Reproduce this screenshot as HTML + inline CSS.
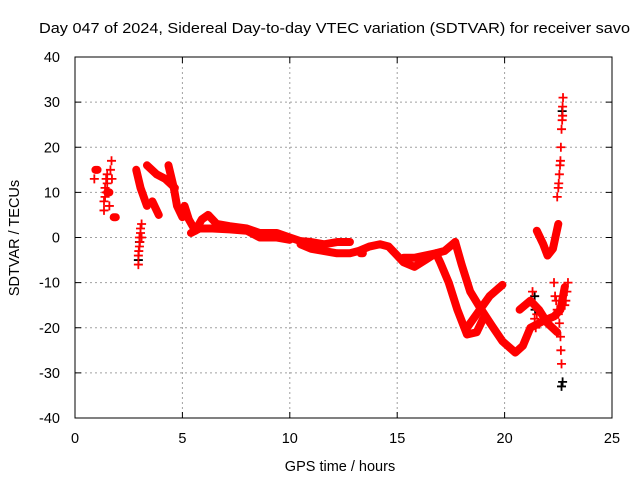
<!DOCTYPE html>
<html><head><meta charset="utf-8"><style>
html,body{margin:0;padding:0;background:#fff;}
svg text{font-family:"Liberation Sans",sans-serif;}
</style></head><body>
<svg id="chart" width="640" height="480" viewBox="0 0 640 480" xmlns="http://www.w3.org/2000/svg">
<rect width="640" height="480" fill="#fff"/>
<text x="39" y="33" font-size="14.5" textLength="591" lengthAdjust="spacingAndGlyphs">Day 047 of 2024, Sidereal Day-to-day VTEC variation (SDTVAR) for receiver savo</text>
<g id="grid"></g>
<g id="ticks"></g>
<defs><clipPath id="pc"><rect x="75" y="57" width="537" height="361"/></clipPath></defs>
<g id="marks" clip-path="url(#pc)"></g>
<rect x="75" y="57" width="537" height="361" fill="none" stroke="#000" stroke-width="1"/>
<text x="340" y="471" font-size="14.5" text-anchor="middle">GPS time / hours</text>
<text transform="translate(19,238) rotate(-90)" font-size="14.5" text-anchor="middle">SDTVAR / TECUs</text>
</svg>
<script>
const xTicks=[0,5,10,15,20,25];
const yTicks=[-40,-30,-20,-10,0,10,20,30,40];
// dense bands (hours, TECU)
const bandMain=[[5.1,7],[5.3,4],[5.6,1.5],[5.9,4],[6.2,5],[6.6,3],[7.2,2.5],[8,2],[8.6,1],[9.4,1],[10,0],[10.5,-0.8],[11,-1],[11.6,-1.5],[12.2,-1],[12.8,-1]];
const bandMain2=[[5.4,1],[5.8,2],[6.4,2],[7.2,1.8],[8,1.5],[8.6,0],[9.4,0],[10,-0.5]];
const bandLow=[[10.5,-1.5],[11,-2.5],[11.6,-3],[12.2,-3.5],[12.8,-3.5],[13.2,-3],[13.7,-2],[14.2,-1.5],[14.6,-2],[14.9,-3.5],[15.3,-5.5],[15.8,-6.5],[16.3,-5],[16.8,-3.5],[17.2,-3],[17.7,-1]];
const bandUp=[[15.3,-4.5],[15.8,-4.5],[16.3,-4],[16.8,-3.5],[17.0,-5.5],[17.4,-10],[17.8,-16],[18.25,-21.5],[18.7,-21],[19.0,-18]];
const bandDown=[[17.7,-1],[18.0,-6],[18.4,-12],[18.85,-15.5],[19.4,-19.5],[19.9,-23],[20.5,-25.5],[20.85,-24],[21.2,-20],[21.8,-18.5],[22.3,-17.5],[22.6,-16],[22.8,-11]];
const bandRise=[[18.25,-20],[18.7,-17],[19.3,-13],[19.9,-10.5]];
const bandCross=[[20.7,-16],[21.2,-14],[21.6,-16],[22.0,-19],[22.45,-21]];
const bandHook=[[21.5,1.5],[21.8,-1.5],[22.0,-4],[22.25,-2.5],[22.5,3]];
const bandEarly1=[[2.85,15],[3.05,11],[3.35,7]];
const bandEarly2=[[3.35,16],[3.8,14],[4.2,13],[4.65,11]];
const bandEarly3=[[4.35,16],[4.6,11],[4.75,7],[5.0,4.5]];
const bandEarly4=[[3.6,8],[3.9,5]];
const blobs=[[0.95,15],[1.8,4.5],[1.5,10],[8.7,1],[13.3,-3.5]];
// sparse + markers
const redT=[1.35,1.35,1.4,1.4,1.45,1.45,1.5,1.5,1.6,1.65,1.7,1.72,0.9,2.95,2.95,2.97,3.0,3.0,3.02,3.05,3.05,3.1,3.1,22.45,22.5,22.52,22.55,22.58,22.6,22.62,22.65,22.68,22.7,22.72,22.7,22.3,22.35,22.4,22.45,22.5,22.55,22.6,22.62,22.65,21.3,21.35,21.4,21.45,21.5,22.95,22.9,22.85,22.8];
const redV=[6,8,9,11,10,13,12,14,7,15,17,13,13,-6,-4,-3,-2,0,-1,1,2,3,0,9,11,12,14,16,17,20,24,26,27,31,29,-10,-13,-14,-16,-17,-19,-22,-25,-28,-12,-15,-18,-20,-17,-10,-12,-14,-15];
const blackT=[2.95,3.0,22.65,22.7,22.68,21.4,21.42];
const blackV=[-5,-1,-33,-32,28,-13,-16];
const NS='http://www.w3.org/2000/svg';
const X0=75,X1=612,Y0=418,Y1=57;
const sx=t=>X0+(t-0)/25*(X1-X0);
const sy=v=>Y0-(v+40)/80*(Y0-Y1);
const grid=document.getElementById('grid'),ticks=document.getElementById('ticks'),marks=document.getElementById('marks');
function mk(tag,attrs,parent){const e=document.createElementNS(NS,tag);for(const k in attrs)e.setAttribute(k,attrs[k]);parent.appendChild(e);return e;}
xTicks.forEach(t=>{
 if(t>0&&t<25){const g=mk('line',{x1:sx(t),x2:sx(t),y1:Y1,y2:Y0,stroke:'#a0a0a0','stroke-dasharray':'2,3'},grid);
 
 }
 mk('line',{x1:sx(t),x2:sx(t),y1:Y0,y2:Y0-6,stroke:'#000'},ticks);
 mk('line',{x1:sx(t),x2:sx(t),y1:Y1,y2:Y1+6,stroke:'#000'},ticks);
 const l=mk('text',{x:sx(t),y:Y0+25,'font-size':14.5,'text-anchor':'middle'},ticks);l.textContent=t;
 
 
});
yTicks.forEach(v=>{
 if(v>-40&&v<40){const g=mk('line',{x1:X0,x2:X1,y1:sy(v),y2:sy(v),stroke:'#a0a0a0','stroke-dasharray':'2,3'},grid);
 
 }
 mk('line',{x1:X0,x2:X0+6,y1:sy(v),y2:sy(v),stroke:'#000'},ticks);
 mk('line',{x1:X1,x2:X1-6,y1:sy(v),y2:sy(v),stroke:'#000'},ticks);
 const l=mk('text',{x:X0-15,y:sy(v)+5,'font-size':14.5,'text-anchor':'end'},ticks);l.textContent=v;
 
 
});
function band(arr,w){
 const p=mk('polyline',{points:arr.map(d=>sx(d[0])+','+sy(d[1])).join(' '),fill:'none',stroke:'#f00','stroke-width':w,'stroke-linejoin':'round','stroke-linecap':'round'},marks);
 
 
}
function plus(t,v,c){
 const x=sx(t),y=sy(v);
 const p=mk('path',{d:`M${x-4.5},${y}H${x+4.5}M${x},${y-4.5}V${y+4.5}`,stroke:c,'stroke-width':1.8},marks);
 
 
}
blackT.forEach((t,i)=>plus(t,blackV[i],'#000'));
[bandMain,bandMain2,bandLow,bandUp,bandDown,bandRise,bandCross,bandHook,bandEarly1,bandEarly2,bandEarly3,bandEarly4].forEach(b=>band(b,8));
blobs.forEach(b=>band([b,[b[0]+0.1,b[1]]],8));
redT.forEach((t,i)=>plus(t,redV[i],'#f00'));
</script>
</body></html>
